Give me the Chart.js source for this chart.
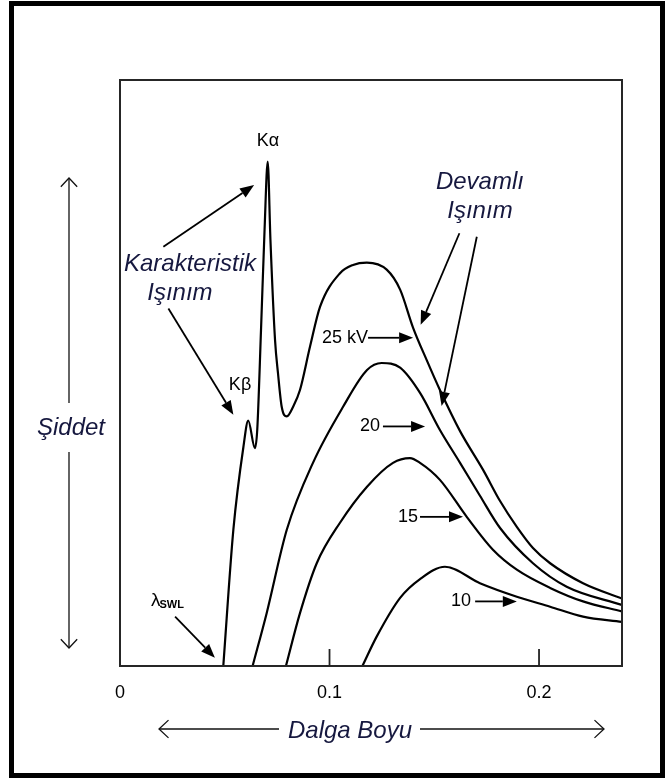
<!DOCTYPE html>
<html><head><meta charset="utf-8">
<script src="https://cdn.jsdelivr.net/npm/chart.js@4.4.1/dist/chart.umd.min.js"></script>
<style>html,body{margin:0;padding:0;background:#fff;}canvas{display:block;}</style>
</head><body>
<canvas id="c" width="668" height="778"></canvas>
<script>
// ---- data (wavelength in nm, intensity in arbitrary units) ----
const wave25 = [0.0493,0.0541,0.0589,0.0612,0.0644,0.0655,0.0673,0.0690,0.0705,0.0718,0.0740,0.0754,0.0772,0.0796,0.0827,0.0859,0.0907,0.0955,0.1050,0.1112,0.1178,0.1273,0.1337,0.1399,0.1465,0.1527,0.1623,0.1733,0.1814,0.1894,0.1971,0.2053,0.2210,0.2395];
const int25  = [0,23.2,37.3,41.8,37.1,40.2,57.2,74.3,85.9,72.6,55.5,49.9,44.1,42.5,44.2,47.0,54.4,61.2,66.9,68.3,68.7,67.5,64.1,57.6,52.0,47.0,40.0,33.4,28.1,23.7,20.1,17.5,14.1,11.5];
const wave20 = [0.0633,0.0700,0.0796,0.0921,0.1064,0.1179,0.1249,0.1337,0.1432,0.1527,0.1623,0.1718,0.1814,0.1971,0.2132,0.2395];
const int20  = [0,9.0,23.2,34.6,44.1,50.4,51.6,50.8,46.5,40.2,34.6,29.0,23.5,17.5,13.5,10.4];
const wave15 = [0.0792,0.0859,0.0939,0.1050,0.1178,0.1303,0.1384,0.1432,0.1527,0.1655,0.1780,0.1894,0.2053,0.2210,0.2395];
const int15  = [0,9.0,17.5,24.4,30.5,34.6,35.4,34.6,31.7,25.4,19.8,16.4,13.3,11.0,9.3];
const wave10 = [0.1157,0.1225,0.1337,0.1432,0.1551,0.1718,0.1894,0.2053,0.2210,0.2395];
const int10  = [0,5.0,11.6,14.8,16.9,14.1,11.8,10.1,8.4,7.5];
const seriesNames = ['25 kV','20 kV','15 kV','10 kV'];
const tickValues = [0, 0.1, 0.2];
const tickLabels = ['0', '0.1', '0.2'];

function pts(xs, ys){ return xs.map((x,i)=>({x:x, y:ys[i]})); }

const SANS = '"Liberation Sans", Arial, Helvetica, sans-serif';
const INK = '#16183f';

function arrow(ctx, x1, y1, x2, y2, len, half, lw){
  const a = Math.atan2(y2-y1, x2-x1);
  const bx = x2 - len*Math.cos(a), by = y2 - len*Math.sin(a);
  ctx.lineWidth = lw;
  ctx.beginPath(); ctx.moveTo(x1,y1); ctx.lineTo(bx,by); ctx.stroke();
  ctx.beginPath(); ctx.moveTo(x2,y2);
  ctx.lineTo(bx - half*Math.sin(a), by + half*Math.cos(a));
  ctx.lineTo(bx + half*Math.sin(a), by - half*Math.cos(a));
  ctx.closePath(); ctx.fill();
}
function openHead(ctx, x, y, ang, len){
  ctx.beginPath();
  ctx.moveTo(x - len*Math.cos(ang-0.75), y - len*Math.sin(ang-0.75));
  ctx.lineTo(x, y);
  ctx.lineTo(x - len*Math.cos(ang+0.75), y - len*Math.sin(ang+0.75));
  ctx.stroke();
}

const decor = {
  id: 'decor',
  beforeDraw(chart){
    const c = chart.ctx; c.save(); c.fillStyle = '#fff'; c.fillRect(0,0,chart.width,chart.height); c.restore();
  },
  afterDatasetsDraw(chart){
    const c = chart.ctx, ca = chart.chartArea, xs = chart.scales.x, ys = chart.scales.y;
    const X = v => xs.getPixelForValue(v), Y = v => ys.getPixelForValue(v);
    c.save();
    // plot box
    c.strokeStyle = '#262626'; c.lineWidth = 2;
    c.strokeRect(ca.left, ca.top, ca.right-ca.left, ca.bottom-ca.top);
    // inner tick marks
    c.lineWidth = 1.8; c.strokeStyle = '#222';
    tickValues.forEach(v => { if (v > 0) { c.beginPath(); c.moveTo(X(v), ca.bottom); c.lineTo(X(v), ca.bottom-17); c.stroke(); } });
    // filled arrows
    c.fillStyle = '#000'; c.strokeStyle = '#000';
    const arrows = [
      [0.0207,71.4,0.0640,81.9],[0.0231,60.9,0.0541,42.8],[0.0263,8.4,0.0453,1.4],
      [0.1184,55.9,0.1399,55.9],[0.1255,40.8,0.1456,40.8],[0.1432,25.4,0.1637,25.4],[0.1695,11.0,0.1894,11.0],
      [0.1620,73.7,0.1435,58.1],[0.1703,73.1,0.1535,44.3]
    ];
    arrows.forEach(a => arrow(c, X(a[0]), Y(a[1]), X(a[2]), Y(a[3]), 14, 5.5, 1.8));
    // black labels
    c.fillStyle = '#000'; c.textBaseline = 'middle';
    c.font = '18px ' + SANS; c.textAlign = 'center';
    c.fillText('K\u03B1', X(0.0706), Y(89.4));
    c.fillText('K\u03B2', X(0.0573), Y(47.9));
    c.textAlign = 'right';
    c.fillText(seriesNames[0], X(0.1184), Y(55.9));
    c.fillText(seriesNames[1].split(' ')[0], X(0.1241), Y(40.8));
    c.fillText(seriesNames[2].split(' ')[0], X(0.1422), Y(25.4));
    c.fillText(seriesNames[3].split(' ')[0], X(0.1675), Y(11.0));
    // lambda SWL
    c.textAlign = 'left'; c.textBaseline = 'alphabetic';
    const lx = X(0.0148), ly = Y(11.2) + 6;
    c.font = '19px ' + SANS; c.fillText('\u03BB', lx, ly);
    const lw = c.measureText('\u03BB').width;
    c.font = 'bold 11px ' + SANS; c.fillText('SWL', lx + lw - 1, ly + 2);
    // italic labels
    c.fillStyle = INK; c.textAlign = 'center'; c.font = 'italic 24px ' + SANS;
    c.fillText('Karakteristik', X(0.0334), Y(67.3));
    c.fillText('I\u015F\u0131n\u0131m', X(0.0286), Y(62.4));
    c.fillText('Devaml\u0131', X(0.1718), Y(81.2));
    c.fillText('I\u015F\u0131n\u0131m', X(0.1718), Y(76.3));
    c.restore();
  },
  afterDraw(chart){
    const c = chart.ctx, ca = chart.chartArea;
    c.save();
    // outer black frame
    c.fillStyle = '#000';
    c.fillRect(9, 1, 5, 777); c.fillRect(9, 1, 656, 5); c.fillRect(660, 1, 5, 777); c.fillRect(9, 773, 656, 5);
    // intensity axis arrow
    c.strokeStyle = '#111'; c.lineWidth = 1.3;
    const ax = ca.left - 51;
    c.beginPath(); c.moveTo(ax, ca.top + 98); c.lineTo(ax, ca.top + 323); c.stroke();
    c.beginPath(); c.moveTo(ax, ca.top + 372); c.lineTo(ax, ca.bottom - 18); c.stroke();
    openHead(c, ax, ca.top + 98, -Math.PI/2, 12);
    openHead(c, ax, ca.bottom - 18, Math.PI/2, 12);
    c.fillStyle = INK; c.font = 'italic 24px ' + SANS; c.textAlign = 'center'; c.textBaseline = 'alphabetic';
    c.fillText('\u015Eiddet', ax + 2, ca.top + 355);
    // wavelength axis arrow
    const ay = ca.bottom + 63;
    c.beginPath(); c.moveTo(159, ay); c.lineTo(279, ay); c.stroke();
    c.beginPath(); c.moveTo(420, ay); c.lineTo(604, ay); c.stroke();
    openHead(c, 159, ay, Math.PI, 13);
    openHead(c, 604, ay, 0, 13);
    c.fillText('Dalga Boyu', 350, ay + 9);
    c.restore();
  }
};

const ds = (label, xs, ys) => ({
  label: label, data: pts(xs, ys), borderColor: '#000', borderWidth: 2.2,
  pointRadius: 0, fill: false, cubicInterpolationMode: 'monotone'
});

new Chart(document.getElementById('c'), {
  type: 'line',
  data: { datasets: [
    ds(seriesNames[0], wave25, int25),
    ds(seriesNames[1], wave20, int20),
    ds(seriesNames[2], wave15, int15),
    ds(seriesNames[3], wave10, int10)
  ]},
  options: {
    responsive: false, animation: false, devicePixelRatio: 1,
    layout: { padding: { left: 120, right: 46, top: 80, bottom: 62 } },
    plugins: { legend: { display: false }, tooltip: { enabled: false } },
    scales: {
      x: {
        type: 'linear', min: 0, max: 0.2396,
        afterBuildTicks: s => { s.ticks = tickValues.map(v => ({ value: v })); },
        afterFit: s => { s.height = 50; },
        grid: { display: false }, border: { display: false },
        ticks: { callback: v => tickLabels[tickValues.indexOf(v)], font: { family: SANS, size: 18 }, color: '#000', padding: 8, maxRotation: 0, autoSkip: false }
      },
      y: { type: 'linear', min: 0, max: 99.8, display: false }
    }
  },
  plugins: [decor]
});
</script>
</body></html>
